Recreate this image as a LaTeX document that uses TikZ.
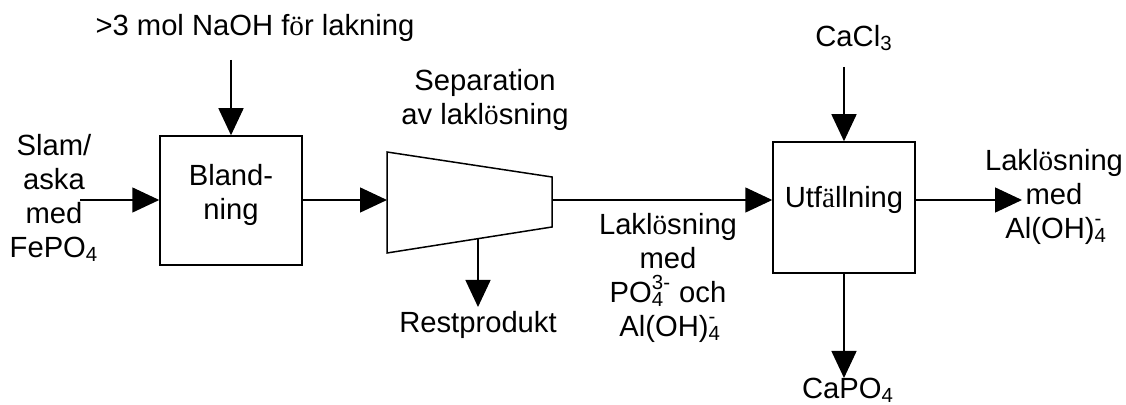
\documentclass[tikz,border=0pt]{standalone}
\usepackage{fontspec}
\setmainfont{Liberation Sans}
\newfontfamily\serifch{Liberation Serif}
\usetikzlibrary{arrows.meta}
\newcommand\chemion[2]{\rlap{\textsubscript{#1}}\raisebox{1.5pt}{\textsuperscript{#2}}}
\begin{document}
\begin{tikzpicture}[x=0.5pt,y=-0.5pt, line width=0.75pt,
  flow/.style={-{Triangle[length=13.5pt,width=12.5pt]}},
  box/.style={draw, minimum width=71pt, inner sep=0pt},
  lbl/.style={align=center, font=\fontsize{14.6}{17}\selectfont, inner sep=0pt}]
\useasboundingbox (0,0) rectangle (1126,405);
% boxes
\node[box, minimum height=64.5pt] (bland) at (231,200.5) {};
\node[lbl] (blandtxt) at (231,195) {Bland-\\ning};
\node[box, minimum height=65.5pt] (utf) at (844,207.5) {};
\node[lbl] (utftxt) at (844,200) {Utf{\serifch ä}llning};
% separator
\draw (387,152) -- (552,177) -- (552,227) -- (387,253) -- cycle;
\coordinate (sepin) at (387,200);
\coordinate (sepout) at (552,200);
\coordinate (sepbot) at (478,239);
% free ends
\coordinate (inS) at (80,200);
\coordinate (naohS) at (231,60);
\coordinate (restE) at (478,307);
\coordinate (caclS) at (844,67);
\coordinate (capoE) at (844,378);
\coordinate (outE) at (1022,200);
% connectors
\draw[flow] (inS) -- (bland.west |- inS);
\draw[flow] (naohS) -- (bland.north);
\draw[flow] (bland.east |- sepin) -- (sepin);
\draw[flow] (sepout) -- (utf.west |- sepout);
\draw[flow] (sepbot) -- (restE);
\draw[flow] (caclS) -- (utf.north);
\draw[flow] (utf.south) -- (capoE);
\draw[flow] (utf.east |- outE) -- (outE);
% labels
\node[lbl] (naoh) at (255,28) {>3 mol NaOH f{\serifch ö}r lakning};
\node[lbl] (slam) at (54,198) {Slam/\\aska\\med\\FePO\textsubscript{4}};
\node[lbl] (septxt) at (485,100) {Separation\\av lakl{\serifch ö}sning};
\node[lbl] (rest) at (478,325) {Restprodukt};
\node[lbl] (mid) at (668,278) {Lakl{\serifch ö}sning\\med\\PO\chemion{4}{3-} och\\Al(OH)\chemion{4}{-}};
\node[lbl] (cacl) at (854,38) {CaCl\textsubscript{3}};
\node[lbl] (capo) at (848,390) {CaPO\textsubscript{4}};
\node[lbl] (outtxt) at (1054,197) {Lakl{\serifch ö}sning\\med\\Al(OH)\chemion{4}{-}};
\end{tikzpicture}
\end{document}
